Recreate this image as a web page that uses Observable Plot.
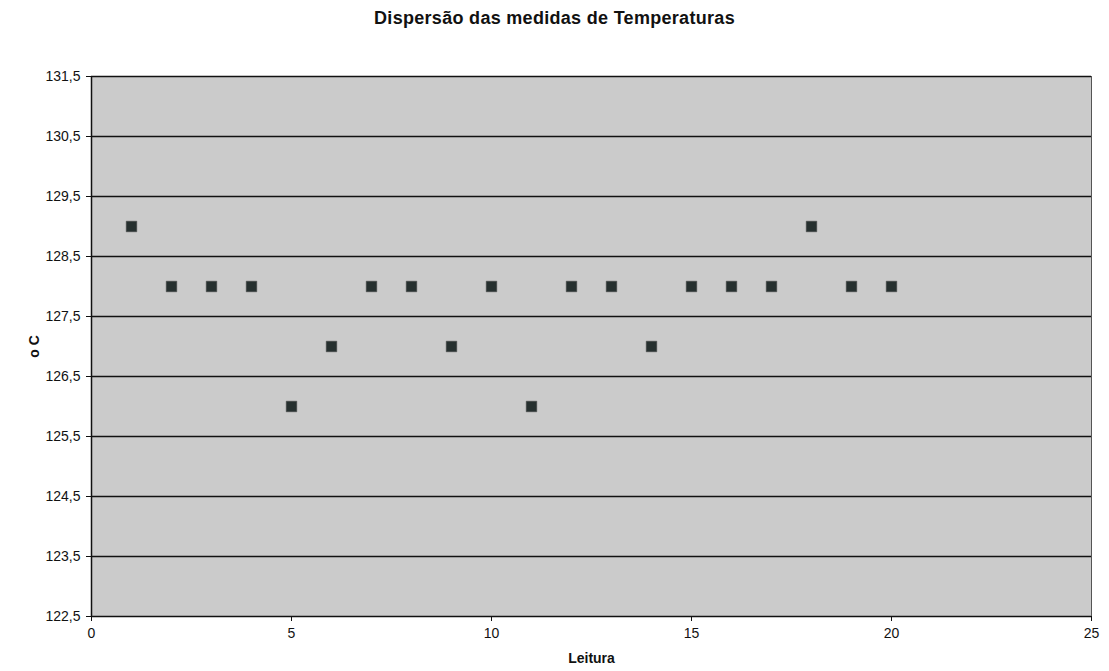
<!DOCTYPE html>
<html>
<head>
<meta charset="utf-8">
<script src="https://cdn.jsdelivr.net/npm/d3@7"></script>
<script src="https://cdn.jsdelivr.net/npm/@observablehq/plot@0.6"></script>
<style>
  html, body { margin: 0; padding: 0; background: #fff; }
  #title { height: 36px; width: 1109px; text-align: center; font-family: "Liberation Sans", Arial, sans-serif; font-weight: bold; font-size: 18px; line-height: 36px; color: #111; box-sizing: border-box; padding-left: 0px; letter-spacing: 0.3px; }
</style>
</head>
<body>
<div id="title">Dispersão das medidas de Temperaturas</div>
<div id="chart"></div>
<script>
const leitura = [1, 2, 3, 4, 5, 6, 7, 8, 9, 10, 11, 12, 13, 14, 15, 16, 17, 18, 19, 20];
const temperatura = [129, 128, 128, 128, 126, 127, 128, 128, 127, 128, 126, 128, 128, 127, 128, 128, 128, 129, 128, 128];
const yTicks = [122.5, 123.5, 124.5, 125.5, 126.5, 127.5, 128.5, 129.5, 130.5, 131.5];
const xTicks = [0, 5, 10, 15, 20, 25];

const data = leitura.map((x, i) => ({x, y: temperatura[i]}));
const fmt = d => d.toFixed(1).replace(".", ",");

const chart = Plot.plot({
  width: 1109,
  height: 635,
  marginLeft: 91,
  marginRight: 18,
  marginTop: 40,
  marginBottom: 55,
  style: {fontFamily: "'Liberation Sans', Arial, sans-serif", fontSize: "14px", color: "#111", background: "#fff"},
  x: {domain: [0, 25]},
  y: {domain: [122.5, 131.5]},
  marks: [
    Plot.frame({fill: "#cbcbcb", stroke: "#555", strokeWidth: 1}),
    Plot.ruleY(yTicks, {stroke: "#111", strokeWidth: 1.5}),
    Plot.ruleX([0], {stroke: "#111", strokeWidth: 1.5}),
    Plot.axisY(yTicks, {tickFormat: fmt, tickSize: 5, tickPadding: 6, fontSize: 14, label: "o C", labelAnchor: "center", labelArrow: "none", labelOffset: 62}),
    Plot.axisX(xTicks, {tickSize: 5, tickPadding: 7, fontSize: 14, label: "Leitura", labelAnchor: "center", labelArrow: "none", labelOffset: 46}),
    Plot.dot(data, {x: "x", y: "y", symbol: "square", r: 6, fill: "#26302f", stroke: "#555", strokeWidth: 0.5})
  ]
});
document.getElementById("chart").appendChild(chart);
// bold axis labels
chart.querySelectorAll("[aria-label='y-axis label'] text, [aria-label='x-axis label'] text").forEach(t => { t.setAttribute("font-weight", "bold"); t.setAttribute("font-size", "14"); });
</script>
</body>
</html>
